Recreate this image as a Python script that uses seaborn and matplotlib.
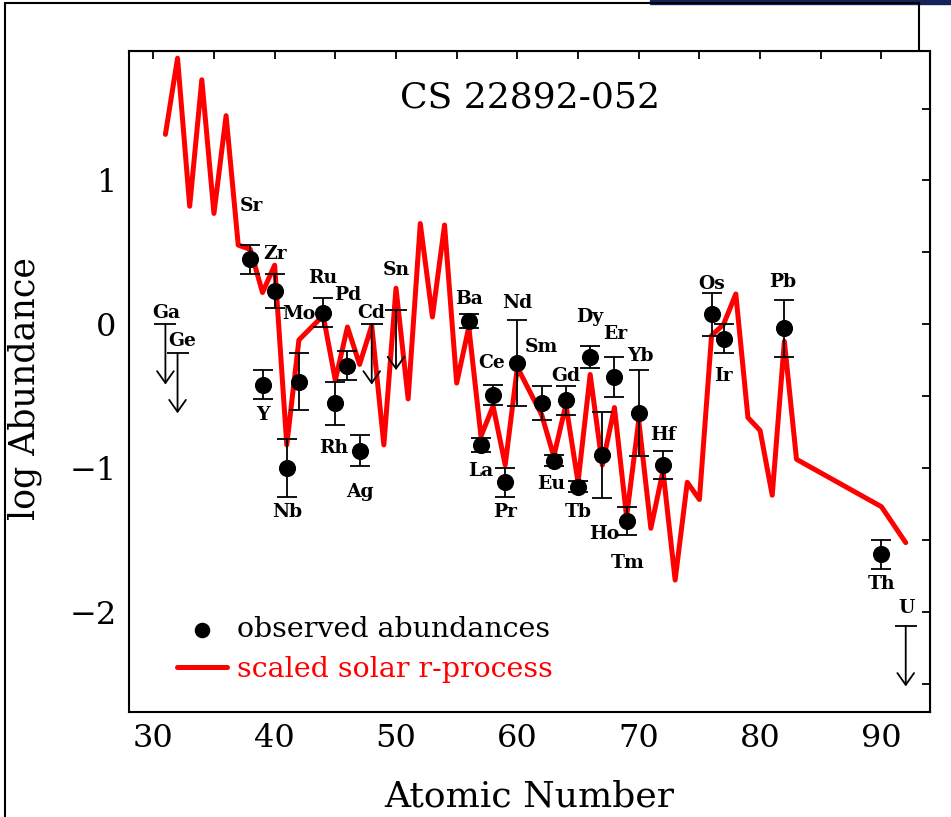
import numpy as np
import pandas as pd
import seaborn as sns
import matplotlib.pyplot as plt
from matplotlib.lines import Line2D
from matplotlib.patches import Rectangle
from matplotlib.ticker import MultipleLocator

# scaled solar r-process curve (atomic number, log abundance)
r_z = [31, 32, 33, 34, 35, 36, 37, 38, 39, 40, 41, 42, 44, 45, 46, 47, 48, 49, 50,
       51, 52, 53, 54, 55, 56, 57, 58, 59, 60, 62, 63, 64, 65, 66, 67, 68, 69, 70,
       71, 72, 73, 74, 75, 76, 77, 78, 79, 80, 81, 82, 83, 90, 92]
r_val = [1.32, 1.85, 0.82, 1.70, 0.77, 1.45, 0.55, 0.52, 0.22, 0.41, -0.84, -0.11,
         0.06, -0.39, -0.02, -0.28, -0.01, -0.84, 0.25, -0.52, 0.70, 0.05, 0.69,
         -0.41, -0.02, -0.78, -0.57, -0.98, -0.30, -0.63, -0.92, -0.56, -1.10, -0.35,
         -0.98, -0.58, -1.34, -0.67, -1.42, -1.02, -1.78, -1.10, -1.22, -0.08, 0.00,
         0.21, -0.65, -0.74, -1.19, -0.12, -0.94, -1.27, -1.52]

# observed abundances with errors
obs_el = ['Sr', 'Y', 'Zr', 'Nb', 'Mo', 'Ru', 'Rh', 'Pd', 'Ag', 'Ba', 'La', 'Ce', 'Pr',
          'Nd', 'Sm', 'Eu', 'Gd', 'Tb', 'Dy', 'Ho', 'Er', 'Tm', 'Yb', 'Hf', 'Os', 'Ir',
          'Pb', 'Th']
obs_z = [38, 39, 40, 41, 42, 44, 45, 46, 47, 56, 57, 58, 59, 60, 62, 63, 64, 65, 66,
         67, 68, 69, 70, 72, 76, 77, 82, 90]
obs_val = [0.45, -0.42, 0.23, -1.00, -0.40, 0.08, -0.55, -0.29, -0.88, 0.02, -0.84,
           -0.49, -1.10, -0.27, -0.55, -0.95, -0.53, -1.13, -0.23, -0.91, -0.37, -1.37,
           -0.62, -0.98, 0.07, -0.10, -0.03, -1.60]
obs_err = [0.10, 0.10, 0.12, 0.20, 0.20, 0.10, 0.15, 0.10, 0.11, 0.05, 0.05, 0.07,
           0.10, 0.30, 0.12, 0.04, 0.10, 0.04, 0.075, 0.30, 0.14, 0.10, 0.30, 0.10,
           0.15, 0.10, 0.20, 0.10]

# upper limits
ul_el = ['Ga', 'Ge', 'Cd', 'Sn', 'U']
ul_z = [31, 32, 48, 50, 92]
ul_val = [0.00, -0.20, 0.00, 0.10, -2.10]

# label offsets (dx, dy) from each point
label_off = {
    'Sr': (0.07, 0.375), 'Y': (0.0, -0.21), 'Zr': (0.05, 0.26), 'Nb': (0.0, -0.31),
    'Mo': (0.0, 0.47), 'Ru': (0.0, 0.24), 'Rh': (-0.15, -0.31), 'Pd': (0.0, 0.49),
    'Ag': (0.0, -0.29), 'Ba': (0.0, 0.155), 'La': (0.0, -0.18), 'Ce': (-0.15, 0.22),
    'Pr': (0.0, -0.21), 'Nd': (0.0, 0.42), 'Sm': (0.0, 0.39), 'Eu': (-0.2, -0.165),
    'Gd': (0.0, 0.17), 'Tb': (0.0, -0.18), 'Dy': (-0.06, 0.28), 'Ho': (0.15, -0.55),
    'Er': (0.05, 0.30), 'Tm': (0.1, -0.29), 'Yb': (0.15, 0.40), 'Hf': (0.0, 0.21),
    'Os': (0.0, 0.21), 'Ir': (0.0, -0.26), 'Pb': (-0.15, 0.32), 'Th': (0.0, -0.21),
    'Ga': (0.06, 0.08), 'Ge': (0.4, 0.085), 'Cd': (0.0, 0.08), 'Sn': (0.0, 0.28),
    'U': (0.1, 0.125),
}

obs = pd.DataFrame({'el': obs_el, 'Z': obs_z, 'val': obs_val, 'err': obs_err})
rproc = pd.DataFrame({'Z': r_z, 'val': r_val})

sns.set_style("white")
plt.rcParams['font.family'] = ['DejaVu Serif', 'DejaVu Sans']
plt.rcParams['text.color'] = 'black'
plt.rcParams['axes.labelcolor'] = 'black'
plt.rcParams['xtick.color'] = 'black'
plt.rcParams['ytick.color'] = 'black'

W, H = 951, 817
fig = plt.figure(figsize=(W / 100, H / 100), dpi=100)

# slide frame remnants behind the plot
fig.add_artist(Line2D([5 / W, 5 / W], [0, 1 - 3 / H], color='black', lw=1.5))
fig.add_artist(Line2D([5 / W, 919 / W], [1 - 3 / H, 1 - 3 / H], color='black', lw=1.5))
fig.add_artist(Line2D([919 / W, 919 / W], [1 - 3 / H, 1 - 51 / H], color='black', lw=1.5))
fig.add_artist(Rectangle((650 / W, 1 - 4 / H), 301 / W, 4 / H, color='#14245a',
                         transform=fig.transFigure))

ax = fig.add_axes([129 / W, 1 - 712.3 / H, (930 - 129) / W, (712.3 - 51) / H])
ax.set_facecolor('white')

sns.lineplot(data=rproc, x='Z', y='val', color='red', linewidth=3.6, ax=ax,
             label='scaled solar r-process', zorder=2)
ax.errorbar(obs['Z'], obs['val'], yerr=obs['err'], fmt='none', ecolor='black',
            elinewidth=1.3, capsize=7.5, capthick=1.3, zorder=3)
sns.scatterplot(data=obs, x='Z', y='val', color='black', s=130, edgecolor='black',
                ax=ax, label='observed abundances', zorder=4)

# upper limits: bar + open arrow
for z, v in zip(ul_z, ul_val):
    ax.plot([z], [v], marker='_', markersize=16, mew=1.3, color='black')
    ax.annotate('', xy=(z, v - 0.42), xytext=(z, v),
                arrowprops=dict(arrowstyle='->, head_length=0.85, head_width=0.6',
                                lw=1.3, color='black', shrinkA=0, shrinkB=0))

for el, z, v in zip(obs_el + ul_el, obs_z + ul_z, obs_val + ul_val):
    dx, dy = label_off[el]
    ax.text(z + dx, v + dy, el, ha='center', va='center', fontsize=13.5,
            fontweight='bold')

ax.text(0.5, 0.93, 'CS 22892-052', transform=ax.transAxes, ha='center', va='center',
        fontsize=26)

ax.set_xlim(28, 94)
ax.set_ylim(-2.7, 1.9)
ax.set_xticks([30, 40, 50, 60, 70, 80, 90])
ax.set_yticks([-2, -1, 0, 1])
ax.xaxis.set_minor_locator(MultipleLocator(5))
ax.yaxis.set_minor_locator(MultipleLocator(0.5))
ax.tick_params(axis='x', which='major', direction='in', length=13.7, width=1.3,
               labelsize=23, pad=8)
ax.tick_params(axis='x', which='minor', direction='in', length=6.2, width=1.3)
ax.tick_params(axis='y', which='major', direction='in', length=11.5, width=1.3,
               labelsize=23, pad=9)
ax.tick_params(axis='y', which='minor', direction='in', length=6.5, width=1.3)
for s in ax.spines.values():
    s.set_linewidth(1.5)
    s.set_color('black')

secx = ax.secondary_xaxis('top')
secx.set_xticks(np.arange(30, 95, 5))
secx.tick_params(direction='in', length=5.8, width=1.3, labeltop=False)
secy = ax.secondary_yaxis('right')
secy.set_yticks(np.arange(-2.5, 1.6, 0.5))
secy.tick_params(direction='in', length=5.8, width=1.3, labelright=False)

ax.set_xlabel('Atomic Number', fontsize=26)
ax.set_ylabel('log Abundance', fontsize=25)
ax.xaxis.set_label_coords(0.5, -0.128)
ax.xaxis.label.set_va('center')
ax.yaxis.set_label_coords(-0.13, 0.49)
ax.yaxis.label.set_va('center')

handles, labels = ax.get_legend_handles_labels()
order = [labels.index('observed abundances'), labels.index('scaled solar r-process')]
leg = ax.legend([handles[i] for i in order], [labels[i] for i in order],
                loc='upper left', bbox_to_anchor=(0.06, 0.145), frameon=False,
                fontsize=20.5, handlelength=1.75, handletextpad=0.35, labelspacing=0.45,
                borderpad=0, borderaxespad=0, markerscale=0.9)
leg.get_texts()[1].set_color('red')

fig.savefig('out.png', dpi=100)
